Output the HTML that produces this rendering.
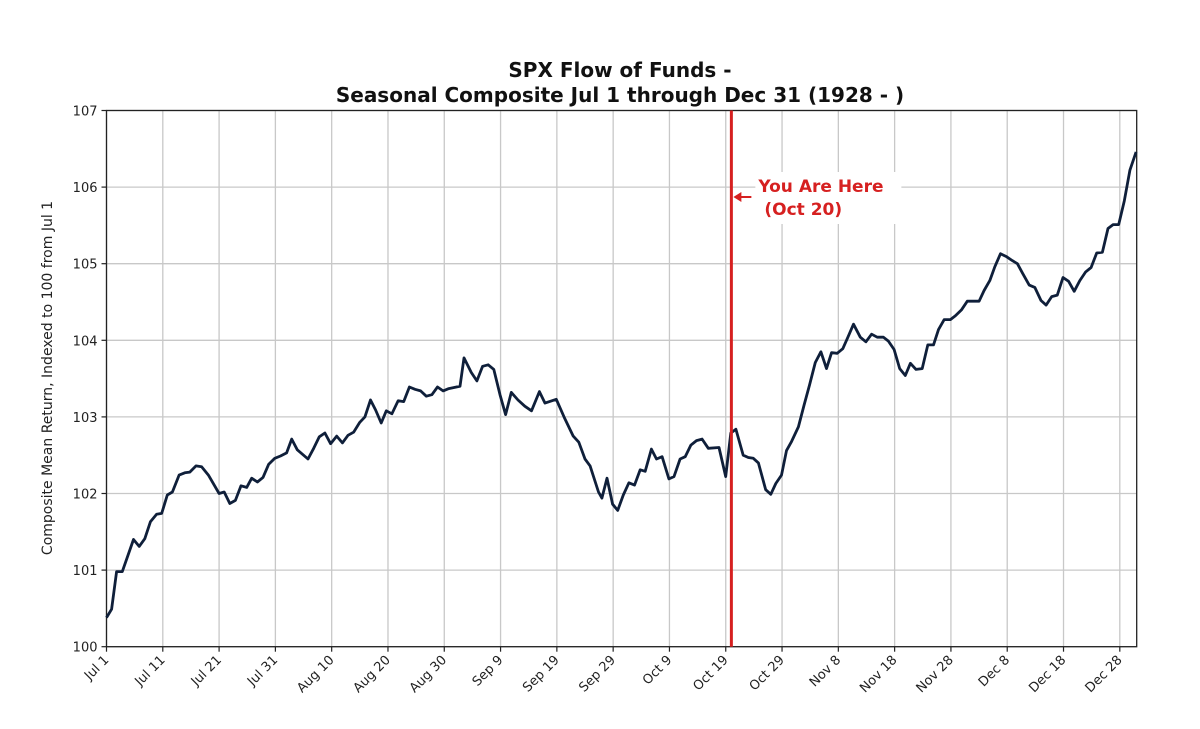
<!DOCTYPE html>
<html><head><meta charset="utf-8"><style>
body{margin:0;background:#fff;}
svg{display:block;font-family:"DejaVu Sans","Liberation Sans",sans-serif;}
</style></head><body>
<svg id="chart" width="1200" height="729" viewBox="0 0 1200 729">
<rect width="1200" height="729" fill="#fff"/>
<text x="620" y="77" text-anchor="middle" font-size="20" font-weight="bold" fill="#111">SPX Flow of Funds -</text>
<text x="620" y="102" text-anchor="middle" font-size="20" font-weight="bold" fill="#111">Seasonal Composite Jul 1 through Dec 31 (1928 - )</text>
<g id="grid"></g><g id="axes"></g><g id="series"></g><g id="annot"></g>
<text transform="translate(52,378) rotate(-90)" text-anchor="middle" font-size="14" fill="#222">Composite Mean Return, Indexed to 100 from Jul 1</text>
</svg>
<script>
const days=[0,0.9,1.8,2.8,4.8,5.8,6.8,7.8,8.9,9.8,10.8,11.7,12.9,13.9,14.8,15.9,16.9,18.1,20,20.9,21.9,22.9,23.9,24.9,25.8,26.8,27.8,28.8,29.9,30.9,32,32.9,33.9,35.8,36.8,37.8,38.8,39.8,40.9,41.9,42.9,43.9,45,45.9,46.9,47.8,48.8,49.7,50.7,51.8,52.8,53.8,54.8,55.8,56.8,57.8,58.8,59.8,60.8,62.8,63.5,64.8,65.8,66.8,67.8,68.8,69.9,70.9,71.9,73.1,74.3,75.5,76.9,77.9,79.9,81.4,82.9,83.9,85,85.9,87.4,88,88.9,89.9,90.8,91.8,92.8,93.8,94.8,95.7,96.8,97.7,98.7,99.9,100.8,101.9,102.8,103.8,104.8,105.8,106.9,108.8,110,110.9,111.8,113.1,114,114.9,115.8,117.1,118,118.9,119.9,120.8,121.7,122.9,123.9,124.9,125.9,126.9,127.9,128.8,129.8,130.8,131.7,132.7,133.9,134.9,135.9,136.9,138,138.9,139.9,140.9,141.9,142.8,143.8,144.9,145.9,146.9,147.8,148.8,149.9,150.8,151.9,152.9,154,155,155.9,156.9,157.8,158.8,159.9,160.9,161.8,162.7,163.9,164.9,166,166.9,167.9,168.9,169.9,170.9,171.9,172.9,173.9,174.9,175.9,176.9,177.9,178.8,179.8,180.8,181.8,182.9];
const values=[100.38,100.49,100.98,100.98,101.40,101.31,101.41,101.63,101.73,101.74,101.98,102.02,102.24,102.27,102.28,102.36,102.35,102.24,102.00,102.02,101.87,101.91,102.10,102.08,102.20,102.15,102.21,102.38,102.46,102.49,102.53,102.71,102.57,102.45,102.59,102.74,102.79,102.65,102.75,102.66,102.76,102.80,102.93,103.00,103.22,103.09,102.92,103.08,103.04,103.21,103.20,103.39,103.36,103.34,103.27,103.29,103.39,103.34,103.37,103.40,103.77,103.58,103.47,103.66,103.68,103.62,103.29,103.03,103.32,103.22,103.14,103.08,103.33,103.18,103.23,102.98,102.75,102.67,102.45,102.36,102.02,101.94,102.20,101.86,101.78,101.98,102.14,102.11,102.31,102.29,102.58,102.45,102.48,102.19,102.22,102.45,102.48,102.63,102.69,102.71,102.59,102.60,102.22,102.79,102.84,102.50,102.47,102.46,102.40,102.05,101.99,102.13,102.24,102.56,102.68,102.87,103.15,103.42,103.71,103.85,103.63,103.84,103.83,103.89,104.04,104.21,104.04,103.98,104.08,104.04,104.04,103.99,103.88,103.63,103.54,103.70,103.62,103.63,103.94,103.94,104.14,104.27,104.27,104.32,104.40,104.51,104.51,104.51,104.65,104.78,104.96,105.13,105.09,105.04,105.00,104.88,104.72,104.69,104.52,104.46,104.57,104.59,104.82,104.77,104.64,104.78,104.89,104.95,105.14,105.15,105.46,105.51,105.51,105.82,106.22,106.46];
const tickLabels=["Jul 1","Jul 11","Jul 21","Jul 31","Aug 10","Aug 20","Aug 30","Sep 9","Sep 19","Sep 29","Oct 9","Oct 19","Oct 29","Nov 8","Nov 18","Nov 28","Dec 8","Dec 18","Dec 28"];
const tickDays=[0,10,20,30,40,50,60,70,80,90,100,110,120,130,140,150,160,170,180];
const yTicks=[100,101,102,103,104,105,106,107];
const markerDay=[111];

const L=106.5,R=1136.7,T=110.5,B=646.7,D0=0,D1=183,V0=100,V1=107;
const xs=d=>L+(d-D0)/(D1-D0)*(R-L);
const ys=v=>B-(v-V0)/(V1-V0)*(B-T);
const NS="http://www.w3.org/2000/svg";
function mk(tag,attrs,parent,txt){const e=document.createElementNS(NS,tag);for(const k in attrs)e.setAttribute(k,attrs[k]);if(txt!==undefined)e.textContent=txt;document.getElementById(parent).appendChild(e);return e;}

tickDays.forEach((d,i)=>{
  const x=xs(d);
  const g=mk('line',{x1:x,x2:x,y1:T,y2:B,stroke:'#c8c8c8','stroke-width':1.3},'grid');
  
  
  const t=mk('line',{x1:x,x2:x,y1:B,y2:B+5,stroke:'#222','stroke-width':1.2},'axes');
  
  
  const lb=mk('text',{x:x+3,y:B+14,'text-anchor':'end','font-size':13,fill:'#222',transform:`rotate(-45 ${x+3} ${B+14})`},'axes',tickLabels[i]);
  
  
});
yTicks.forEach(v=>{
  const y=ys(v);
  const g=mk('line',{x1:L,x2:R,y1:y,y2:y,stroke:'#c8c8c8','stroke-width':1.3},'grid');
  
  
  const t=mk('line',{x1:L-5,x2:L,y1:y,y2:y,stroke:'#222','stroke-width':1.2},'axes');
  
  
  const lb=mk('text',{x:L-9,y:y+5,'text-anchor':'end','font-size':13,fill:'#222'},'axes',String(v));
  
  
});
const frame=mk('rect',{x:L,y:T,width:R-L,height:B-T,fill:'none',stroke:'#222','stroke-width':1.3},'axes');



const pts=days.map((d,i)=>xs(d).toFixed(1)+','+ys(values[i]).toFixed(1)).join(' ');
const line=mk('polyline',{points:pts,fill:'none',stroke:'#0f1f3a','stroke-width':2.8,'stroke-linejoin':'round'},'series');



const mx=xs(markerDay[0]);
const ml=mk('line',{x1:mx,x2:mx,y1:T,y2:B,stroke:'#d62020','stroke-width':3},'annot');


const bg=mk('rect',{x:mx+24,y:172,width:146,height:52,fill:'#fff'},'annot');


const ar=mk('line',{x1:mx+20,x2:mx+5,y1:197,y2:197,stroke:'#d62020','stroke-width':2},'annot');


const ah=mk('polygon',{points:`${mx+2},197 ${mx+10},192 ${mx+10},202`,fill:'#d62020'},'annot');


const t1=mk('text',{x:mx+27,y:192,'font-size':17,'font-weight':'bold',fill:'#d62020'},'annot','You Are Here');


const t2=mk('text',{x:mx+33,y:215,'font-size':17,'font-weight':'bold',fill:'#d62020'},'annot','(Oct 20)');


</script>
</body></html>
